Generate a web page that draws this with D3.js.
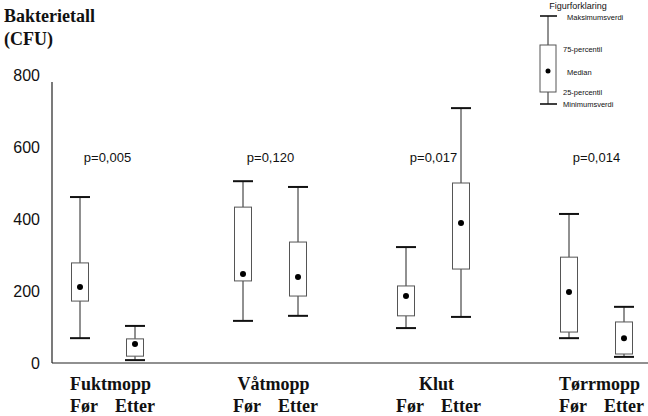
<!DOCTYPE html>
<html><head><meta charset="utf-8">
<script src="https://cdn.jsdelivr.net/npm/d3@7"></script>
<style>body{margin:0;background:#fff}
.serif{font-family:"Liberation Serif","Times New Roman","DejaVu Serif",serif;font-weight:bold}
.sans{font-family:"Liberation Sans",Arial,sans-serif}
</style>
</head><body>
<svg id="c" width="648" height="416"></svg>
<script>
const groups = ["Fuktmopp","Våtmopp","Klut","Tørrmopp"];
const phases = ["Før","Etter"];
const pValues = ["p=0,005","p=0,120","p=0,017","p=0,014"];
const yTicks = [0,200,400,600,800];
// per group: [Før, Etter]
const maxVals    = [[461,103],[505,489],[322,708],[414,156]];
const q3Vals     = [[278,67],[433,336],[214,500],[294,114]];
const medianVals = [[211,53],[247,239],[186,389],[197,69]];
const q1Vals     = [[172,19],[228,186],[131,261],[86,25]];
const minVals    = [[69,8],[117,131],[97,128],[69,17]];

const svg = d3.select("#c");
const y = d3.scaleLinear().domain([0,800]).range([363,75]);
const xg = d3.scaleBand().domain(groups).range([26,678]).padding(0);
const xp = d3.scalePoint().domain(phases).range([-27.5,27.5]);
const cx = (g,p)=> xg(g)+xg.bandwidth()/2+xp(p);

// axes lines
svg.append("line").attr("x1",52).attr("x2",52).attr("y1",y(800)+7).attr("y2",y(0)).attr("stroke","#222").attr("stroke-width",1.2);
svg.append("line").attr("x1",52).attr("x2",648).attr("y1",y(0)).attr("y2",y(0)).attr("stroke","#222").attr("stroke-width",1.2);
svg.selectAll("text.yt").data(yTicks).join("text").attr("class","yt sans")
  .attr("x",40).attr("y",d=>y(d)).attr("dy","0.36em").attr("text-anchor","end")
  .attr("font-size",16).attr("fill","#111").text(d=>d);

// title
const ttl = svg.append("text").attr("class","serif").attr("font-size",18).attr("fill","#111");
ttl.append("tspan").attr("x",4).attr("y",22).text("Bakterietall");
ttl.append("tspan").attr("x",4).attr("y",45).text("(CFU)");

// boxes
const data = [];
groups.forEach((g,gi)=>phases.forEach((p,pi)=>data.push({g,p,max:maxVals[gi][pi],q3:q3Vals[gi][pi],med:medianVals[gi][pi],q1:q1Vals[gi][pi],min:minVals[gi][pi]})));
const bw = 17, cw = 20;
const b = svg.selectAll("g.box").data(data).join("g").attr("class","box");
b.append("line").attr("x1",d=>cx(d.g,d.p)).attr("x2",d=>cx(d.g,d.p)).attr("y1",d=>y(d.max)).attr("y2",d=>y(d.q3)).attr("stroke","#222").attr("stroke-width",1);
b.append("line").attr("x1",d=>cx(d.g,d.p)).attr("x2",d=>cx(d.g,d.p)).attr("y1",d=>y(d.q1)).attr("y2",d=>y(d.min)).attr("stroke","#222").attr("stroke-width",1);
b.append("rect").attr("x",d=>cx(d.g,d.p)-bw/2).attr("width",bw).attr("y",d=>y(d.q3)).attr("height",d=>y(d.q1)-y(d.q3)).attr("fill","#fff").attr("stroke","#555").attr("stroke-width",1);
b.append("line").attr("x1",d=>cx(d.g,d.p)-cw/2).attr("x2",d=>cx(d.g,d.p)+cw/2).attr("y1",d=>y(d.max)).attr("y2",d=>y(d.max)).attr("stroke","#111").attr("stroke-width",2);
b.append("line").attr("x1",d=>cx(d.g,d.p)-cw/2).attr("x2",d=>cx(d.g,d.p)+cw/2).attr("y1",d=>y(d.min)).attr("y2",d=>y(d.min)).attr("stroke","#111").attr("stroke-width",2);
b.append("circle").attr("cx",d=>cx(d.g,d.p)).attr("cy",d=>y(d.med)).attr("r",3).attr("fill","#000");

// p values
svg.selectAll("text.pv").data(groups).join("text").attr("class","pv sans")
  .attr("x",g=>xg(g)+xg.bandwidth()/2).attr("y",y(572)).attr("dy","0.35em").attr("text-anchor","middle")
  .attr("font-size",13).attr("fill","#111")
  .text((g,i)=>pValues[i]);

// category labels
svg.selectAll("text.gl").data(groups).join("text").attr("class","gl serif")
  .attr("x",g=>xg(g)+xg.bandwidth()/2+3).attr("y",390).attr("text-anchor","middle")
  .attr("font-size",18).attr("fill","#111").text(g=>g);
groups.forEach(g=>{
  phases.forEach(p=>{
    svg.append("text").attr("class","serif").attr("x",cx(g,p)+(p==="Før"?-10:-20)).attr("y",412)
      .attr("font-size",18).attr("fill","#111").text(p);
  });
});

// legend
const lx = 548;
const lg = svg.append("g").attr("class","legend");
lg.append("text").attr("class","sans").attr("x",578).attr("y",9).attr("text-anchor","middle").attr("font-size",9).attr("fill","#111").text("Figurforklaring");
lg.append("line").attr("x1",lx).attr("x2",lx).attr("y1",16).attr("y2",104).attr("stroke","#222").attr("stroke-width",1);
lg.append("rect").attr("x",lx-8).attr("y",45).attr("width",16).attr("height",47).attr("fill","#fff").attr("stroke","#555");
lg.append("line").attr("x1",lx-8).attr("x2",lx+9).attr("y1",16).attr("y2",16).attr("stroke","#111").attr("stroke-width",1.6);
lg.append("line").attr("x1",lx-8).attr("x2",lx+9).attr("y1",104).attr("y2",104).attr("stroke","#111").attr("stroke-width",1.6);
lg.append("circle").attr("cx",lx).attr("cy",71).attr("r",2.5).attr("fill","#000");
const legLabels = [["Maksimumsverdi",567,17],["75-percentil",563,49],["Median",567,72],["25-percentil",563,92],["Minimumsverdi",563,104]];
lg.selectAll("text.ll").data(legLabels).join("text").attr("class","ll sans")
  .attr("x",d=>d[1]).attr("y",d=>d[2]).attr("dy","0.35em")
  .attr("font-size",7.5).attr("fill","#111").text(d=>d[0]);
</script>
</body></html>
